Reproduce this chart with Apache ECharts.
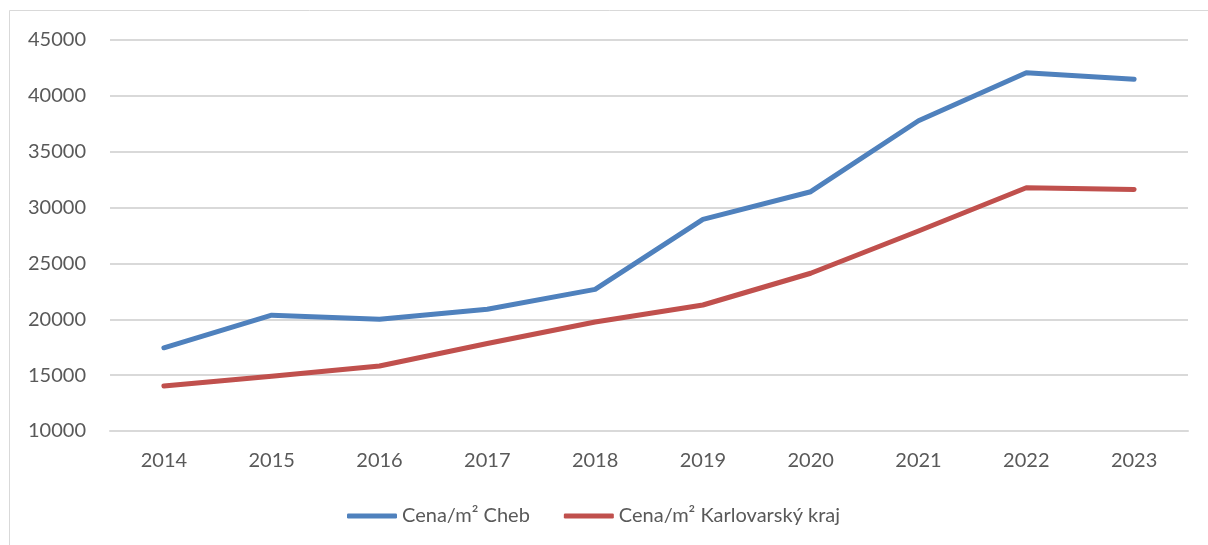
<!DOCTYPE html>
<html>
<head>
<meta charset="utf-8">
<script src="https://cdn.jsdelivr.net/npm/echarts@6/dist/echarts.min.js"></script>
<style>
  html, body { margin: 0; padding: 0; background: #ffffff; }
  #chart { width: 1208px; height: 545px; }
</style>
</head>
<body>
<div id="chart"></div>
<script>
// Years on the category axis
const years = ['2014', '2015', '2016', '2017', '2018', '2019', '2020', '2021', '2022', '2023'];

// Price per m² (CZK)
const chebPrices = [17450, 20370, 20010, 20900, 22680, 28940, 31420, 37770, 42070, 41480];
const regionPrices = [14020, 14910, 15820, 17830, 19760, 21280, 24120, 27900, 31770, 31620];

const seriesNames = ['Cena/m² Cheb', 'Cena/m² Karlovarský kraj'];
const seriesColors = ['#4F81BD', '#C0504D'];

// Value axis range
const yMin = 10000;
const yMax = 45000;
const yStep = 5000;

const chart = echarts.init(document.getElementById('chart'), null, { renderer: 'canvas' });

const labelFont = { color: '#595959', fontFamily: 'Lato, "Open Sans", sans-serif', fontSize: 20 };

function lineSeries(name, data, color) {
  return {
    name: name,
    type: 'line',
    data: data,
    symbol: 'none',
    smooth: false,
    color: color,
    lineStyle: { width: 5, color: color, cap: 'round', join: 'round' },
    emphasis: { disabled: true }
  };
}

chart.setOption({
  animation: false,
  backgroundColor: '#ffffff',
  graphic: [{
    type: 'rect',
    shape: { x: 9.5, y: 10.5, width: 1400, height: 800 },
    style: { fill: 'none', stroke: '#d9d9d9', lineWidth: 1 },
    silent: true,
    z: -1
  }],
  grid: { left: 110, right: 20, top: 40, bottom: 114, containLabel: false },
  legend: {
    bottom: 14,
    left: 342,
    data: seriesNames,
    icon: 'roundRect',
    itemWidth: 50,
    itemHeight: 5,
    itemGap: 34,
    textStyle: labelFont
  },
  xAxis: {
    type: 'category',
    data: years,
    boundaryGap: true,
    axisLine: { show: true, lineStyle: { color: '#d9d9d9', width: 2 } },
    axisTick: { show: false },
    axisLabel: Object.assign({ margin: 20 }, labelFont),
    splitLine: { show: false }
  },
  yAxis: {
    type: 'value',
    min: yMin,
    max: yMax,
    interval: yStep,
    axisLine: { show: false },
    axisTick: { show: false },
    axisLabel: Object.assign({ margin: 24, formatter: function (v) { return String(v); } }, labelFont),
    splitLine: { show: true, lineStyle: { color: '#d9d9d9', width: 2 } }
  },
  series: [
    lineSeries(seriesNames[0], chebPrices, seriesColors[0]),
    lineSeries(seriesNames[1], regionPrices, seriesColors[1])
  ]
});
</script>
</body>
</html>
